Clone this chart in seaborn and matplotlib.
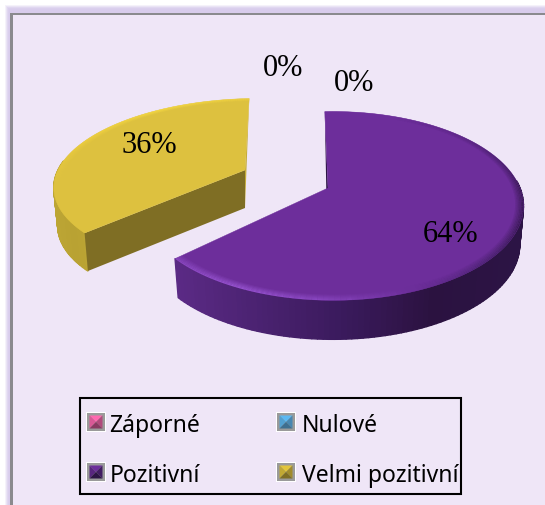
import numpy as np
import seaborn as sns
import matplotlib
matplotlib.use("Agg")
import matplotlib.pyplot as plt
from matplotlib.patches import Polygon, Rectangle
from matplotlib.collections import PolyCollection

categories = ["Záporné", "Nulové", "Pozitivní", "Velmi pozitivní"]
values = [0, 0, 64, 36]
label_positions = [(283, 68.5), (354, 83.5), (451, 234.5), (149.5, 145.5)]
swatch_light = ["#FF69B0", "#5CB8F2", "#6D2E9B", "#E2C53C"]
swatch_dark = ["#8A3A62", "#3E6F90", "#2D1545", "#7F6E24"]
legend_cells = [(87, 414), (277, 414), (87, 464), (277, 464)]

sns.set_theme(style="white")
plt.rcParams["font.family"] = ["Liberation Serif"]

fig = plt.figure(figsize=(5.45, 5.06), dpi=100, facecolor="white")
ax = fig.add_axes([0, 0, 1, 1])
ax.set_xlim(0, 545)
ax.set_ylim(506, 0)
ax.axis("off")

# panel with soft glow and grey border
for i, al in enumerate([0.25, 0.35, 0.5, 0.7, 0.9]):
    ax.add_patch(Rectangle((5 + i, 6 + i), 560, 520, fc="#D8CCEC", ec="none", alpha=al, zorder=1))
ax.add_patch(Rectangle((10, 13.5), 560, 520, fc="#8A8A8E", ec="none", zorder=1.5))
ax.add_patch(Rectangle((12.5, 16), 560, 520, fc="#EFE6F7", ec="none", zorder=1.6))

GEOM = {
    2: dict(cx=333, cy=189, a=187, b=91, k=0.19, shear=0.0, apex=(328, 189), depth=39, shrink=0.98),
    3: dict(cx=250, cy=171, a=192, b=83, k=0.16, shear=-0.11, apex=(245, 171), depth=38, shrink=0.98),
}
STYLE = {
    2: dict(top="#6D2E9B",
            side=sns.blend_palette(["#5B2A85", "#4A2270", "#3A1A5C", "#2B1240", "#2C1445"], 120),
            cut="#2D1545", radial="#3A1A5C",
            rim=sns.blend_palette(["#6D2E9B", "#6D2E9B", "#5C2685", "#451E68", "#35174F", "#35174F",
                                   "#4A2270", "#6D2E9B", "#8F4CC8", "#A05CDC", "#8A48C0"], 120),
            xr=(175, 520)),
    3: dict(top="#DDC13F",
            side=sns.blend_palette(["#BCA534", "#B9A233", "#BCA534"], 120),
            cut="#C4AC38", radial="#7F6E24",
            rim=sns.blend_palette(["#F5D640", "#FFE244", "#F2D23E", "#DDC13F", "#DDC13F"], 120),
            xr=(55, 90)),
}


def project(theta, g, r=1.0):
    t = np.radians(theta)
    u, v = r * np.sin(t), -r * np.cos(t)
    d = 1 - g["k"] * v
    y = g["cy"] + g["b"] * v / d
    return g["cx"] + g["a"] * u / d + g["shear"] * (y - g["cy"]), y


def lower(x, y, g):
    return g["cx"] + (x - g["cx"]) * g["shrink"], y + g["depth"]


angle = -3.0
for idx, val in enumerate(values):
    sweep = val * 3.6
    if val == 0:
        continue
    g, s = GEOM[idx], STYLE[idx]
    th = np.linspace(angle, angle + sweep, 160)
    xs, ys = project(th, g)
    bx, by = lower(xs, ys, g)
    apex = np.array(g["apex"])
    apex_low = np.array([apex[0] - (1 if idx == 2 else 0), apex[1] + g["depth"]])

    # outer side, shaded left to right; only the part that faces the viewer
    quads, cols = [], []
    for i in range(len(th) - 1):
        if np.cos(np.radians(th[i])) > 0.1:
            continue
        quads.append([(xs[i], ys[i]), (xs[i + 1], ys[i + 1]), (bx[i + 1], by[i + 1]), (bx[i], by[i])])
        f = np.clip((xs[i] - s["xr"][0]) / (s["xr"][1] - s["xr"][0]), 0, 1)
        cols.append(s["side"][int(f * 119)])
    ax.add_collection(PolyCollection(quads, facecolors=cols, edgecolors=cols, linewidths=1.0, zorder=3))

    # cut faces
    if idx == 2:
        ax.add_patch(Polygon([(xs[0], ys[0]), apex_low, apex], fc=s["cut"], ec="none", zorder=3.2))
    else:
        ax.add_patch(Polygon([(xs[0], ys[0]), (bx[0], by[0]), apex_low, apex], fc=s["radial"], ec="none", zorder=3.2))
        ax.add_patch(Polygon([(xs[-1], ys[-1]), apex_low, apex], fc=s["cut"], ec="none", zorder=3.25))

    # top face
    ax.add_patch(Polygon(np.vstack([apex, np.column_stack([xs, ys])]), fc=s["top"], ec=s["top"], lw=0.3, zorder=4))

    # bevel along the rim
    steps = 6
    for k in range(steps):
        r0, r1 = 1 - k * 0.007, 1 - (k + 1) * 0.007
        x0, y0 = project(th, g, r0)
        x1, y1 = project(th, g, r1)
        al = 0.85 * (1 - k / steps)
        q, c = [], []
        for i in range(len(th) - 1):
            q.append([(x0[i], y0[i]), (x0[i + 1], y0[i + 1]), (x1[i + 1], y1[i + 1]), (x1[i], y1[i])])
            c.append(s["rim"][int(i / (len(th) - 1) * 119)] if idx == 2
                     else s["rim"][int((1 - i / (len(th) - 1)) * 119)])
        ax.add_collection(PolyCollection(q, facecolors=c, edgecolors="none", alpha=al, zorder=4.2))
    angle += sweep

# percentage labels
for val, (lx, ly) in zip(values, label_positions):
    ax.text(lx, ly, f"{val}%", fontsize=22, family="Liberation Serif", color="black",
            ha="center", va="center", zorder=6)

# legend
ax.add_patch(Rectangle((80, 399), 381, 96, fc="none", ec="black", lw=1.5, zorder=6))
for i, (name, light, dark, (sx, sy)) in enumerate(zip(categories, swatch_light, swatch_dark, legend_cells)):
    w = 18
    ax.add_patch(Rectangle((sx - 1, sy - 1), w + 2, w + 2, fc="white", ec="none", zorder=6))
    ax.add_patch(Rectangle((sx, sy), w, w, fc="#9A9A9A", ec="none", zorder=6.1))
    a, b = sx + 2.5, sy + 2.5
    c, d = sx + w - 2.5, sy + w - 2.5
    m = ((a + c) / 2, (b + d) / 2)
    shade = sns.blend_palette([light, dark], 4)
    ax.add_patch(Polygon([(a, b), (c, b), m], fc=shade[0], ec="none", zorder=6.2))
    ax.add_patch(Polygon([(a, b), (a, d), m], fc=shade[1], ec="none", zorder=6.2))
    ax.add_patch(Polygon([(c, b), (c, d), m], fc=shade[2], ec="none", zorder=6.2))
    ax.add_patch(Polygon([(a, d), (c, d), m], fc=shade[3], ec="none", zorder=6.2))
    ax.text(sx + w + (4.5 if i % 2 == 0 else 6.5), sy + 9, name, fontsize=16.5, family="Noto Sans", color="black",
            ha="left", va="center_baseline", zorder=6.3)

fig.savefig("out.png", dpi=100, facecolor="white")
